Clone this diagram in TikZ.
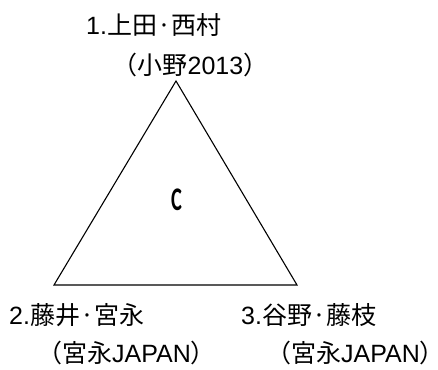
\documentclass[tikz,border=0pt]{standalone}
\usepackage{fontspec}
\setmainfont{Liberation Sans}
\newfontfamily\jp{Noto Sans CJK JP}
\newfontfamily\cfont{Carlito}
% full-width brackets, trimmed to half their box
\newcommand{\lpar}{\makebox[.5em][r]{\jp （}}
\newcommand{\rpar}{\makebox[.5em][l]{\jp ）}}

\begin{document}
\begin{tikzpicture}[x=1pt, y=1pt,
  lab/.style={inner sep=0pt, font=\fontsize{25}{29}\selectfont}]
  \useasboundingbox (0,0) rectangle (438,369);

  % triangle corners
  \coordinate (top) at (176,288);
  \coordinate (left) at (54,84);
  \coordinate (right) at (297,84);
  \draw[line width=1.1pt, line join=miter] (top) -- (left) -- (right) -- cycle;

  % top corner
  \node[lab, anchor=base west] (name1) at (86,334) {1.{\jp 上田·西村}};
  \node[lab, anchor=base] (ref1) at (190.5,294) {\lpar{\jp 小野}2013\rpar};

  % bottom corners
  \node[lab, anchor=base west] (name2) at (9,45) {2.{\jp 藤井·宮永}};
  \node[lab, anchor=base] (ref2) at (126.5,7) {\lpar{\jp 宮永}JAPAN\rpar};
  \node[lab, anchor=base west] (name3) at (241,45) {3.{\jp 谷野·藤枝}};
  \node[lab, anchor=base] (ref3) at (355.5,7) {\lpar{\jp 宮永}JAPAN\rpar};

  \node[inner sep=0pt, anchor=base, xscale=.62, font=\cfont\bfseries\fontsize{33}{38}\selectfont] (mid) at (176.5,158) {C};
\end{tikzpicture}
\end{document}
